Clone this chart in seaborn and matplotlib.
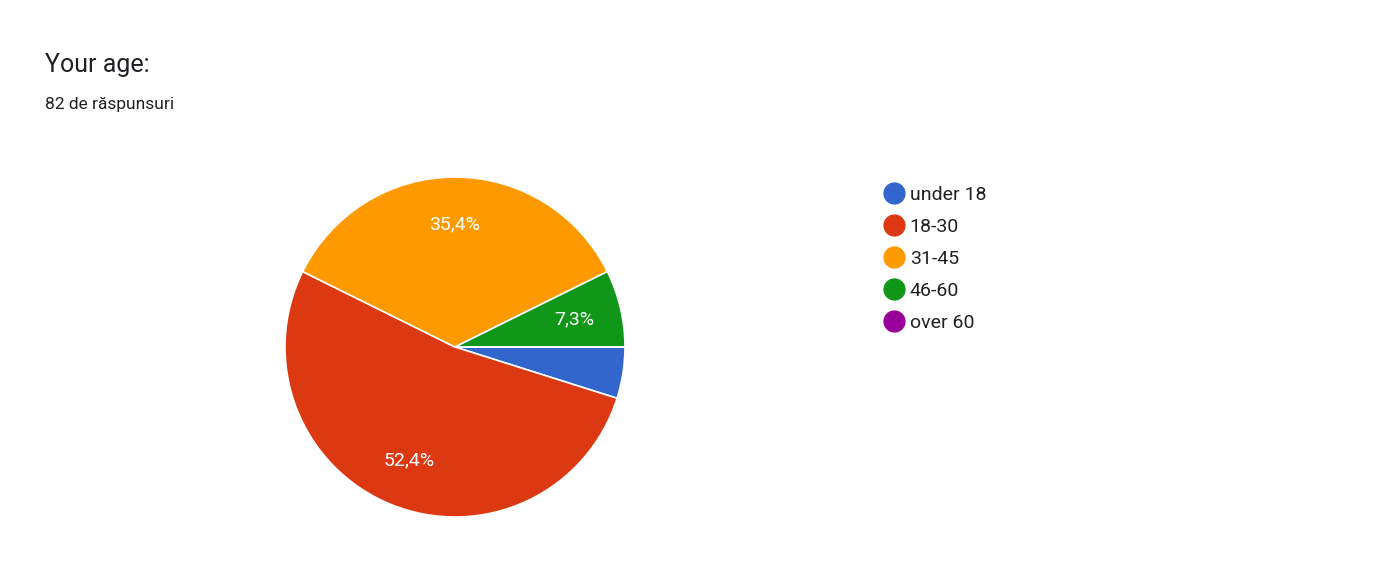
import matplotlib
matplotlib.use("Agg")
import matplotlib.pyplot as plt
from matplotlib.lines import Line2D
import seaborn as sns

categories = ["under 18", "18-30", "31-45", "46-60", "over 60"]
counts = [4, 43, 29, 6, 0]
colors = ["#3366cc", "#dc3912", "#ff9900", "#109618", "#990099"]
title = "Your age:"
subtitle = "82 de răspunsuri"

sns.set_theme(style="white")
plt.rcParams['font.family'] = ['Roboto', 'DejaVu Sans']
pal = sns.color_palette(colors)

W, H = 1380, 581
fig = plt.figure(figsize=(W/100, H/100), dpi=100)
fig.patch.set_facecolor("white")
cx, cy, r = 455, 347, 170
ax = fig.add_axes([(cx-r)/W, (H-cy-r)/H, 2*r/W, 2*r/H])

total = sum(counts)
def fmt(p):
    return ("%.1f%%" % p).replace(".", ",") if p >= 5 else ""

vals = [c for c in counts]
wedges, texts, autotexts = ax.pie(vals, colors=pal, startangle=0, counterclock=False,
    autopct=fmt, pctdistance=0.72,
    wedgeprops=dict(edgecolor="white", linewidth=1.2),
    textprops=dict(color="white", fontsize=14))
ax.set_aspect("equal")
ax.set_xlim(-1, 1); ax.set_ylim(-1, 1)

fig.text(45/W, 1-65/H, title, fontsize=18, color="#202124", va="center")
fig.text(45/W, 1-105/H, subtitle, fontsize=12.5, color="#202124", va="center")

handles = [Line2D([], [], marker="o", linestyle="", markersize=15,
                  markerfacecolor=c, markeredgecolor=c) for c in colors]
fig.legend(handles, categories, loc="upper left", bbox_to_anchor=(865/W, 1-168/H),
           frameon=False, fontsize=14, labelspacing=0.72, handletextpad=0.2,
           handlelength=1.2, labelcolor="#202124")

fig.savefig("out.png", dpi=100, facecolor="white")
